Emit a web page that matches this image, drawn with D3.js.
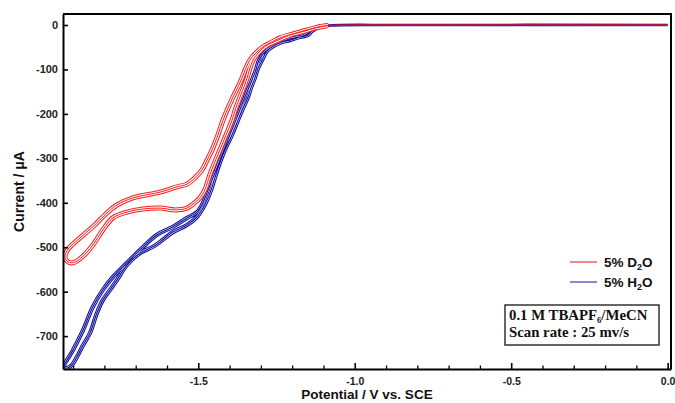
<!DOCTYPE html>
<html><head><meta charset="utf-8">
<script src="https://cdn.jsdelivr.net/npm/d3@7"></script>
<style>html,body{margin:0;padding:0;background:#fff;} svg{display:block;}</style>
</head><body>
<svg id="chart" width="675" height="403"></svg>
<script>
// ---- Data ----
// 5% D2O: forward (cathodic) branch then reverse branch, potential in V vs SCE, current in µA
const d2oPotential = [0.0, -0.85, -1.079, -1.117, -1.159, -1.207, -1.245, -1.284, -1.309, -1.325, -1.335, -1.344, -1.354, -1.364, -1.380, -1.392, -1.411, -1.431, -1.447, -1.463, -1.479, -1.495, -1.517, -1.536, -1.574, -1.622, -1.677, -1.728, -1.773, -1.805, -1.837, -1.868, -1.900, -1.920, -1.926,
  -1.916, -1.878, -1.837, -1.792, -1.760, -1.709, -1.622, -1.568, -1.536, -1.511, -1.488, -1.472, -1.456, -1.437, -1.421, -1.405, -1.389, -1.373, -1.360, -1.348, -1.335, -1.316, -1.293, -1.264, -1.239, -1.197, -1.153, -1.111, -1.079, -0.85, 0.0];
const d2oCurrent = [0, 0, -1, -4.5, -13.5, -22.5, -34, -47, -63, -79, -97, -119, -139, -157, -187, -214, -247, -281, -308, -337, -371, -389, -403, -412, -416, -412, -414, -421, -434, -461, -495, -520, -535, -531, -520,
  -504, -479, -454, -423, -405, -389, -376, -364, -358, -344, -326, -304, -281, -247, -214, -187, -162, -139, -119, -97, -79, -63, -49, -38, -29, -20, -11, -4.5, -1, 0, 0];

// 5% H2O
const h2oPotential = [0.0, -0.85, -1.079, -1.111, -1.137, -1.149, -1.175, -1.207, -1.239, -1.280, -1.296, -1.309, -1.319, -1.332, -1.341, -1.357, -1.373, -1.392, -1.415, -1.431, -1.447, -1.459, -1.472, -1.485, -1.504, -1.536, -1.581, -1.622, -1.645, -1.686, -1.728, -1.760, -1.782, -1.805, -1.824, -1.846, -1.868, -1.888, -1.904, -1.920, -1.929,
  -1.900, -1.868, -1.837, -1.805, -1.773, -1.728, -1.686, -1.632, -1.581, -1.536, -1.504, -1.485, -1.469, -1.453, -1.424, -1.399, -1.380, -1.367, -1.351, -1.332, -1.316, -1.306, -1.287, -1.255, -1.207, -1.165, -1.143, -1.117, -1.079, -0.85, 0.0];
const h2oCurrent = [0, 0, -1, -4.5, -13.5, -22.5, -27, -34, -40, -58, -79, -97, -119, -142, -162, -187, -214, -247, -281, -310, -344, -371, -394, -412, -432, -450, -466, -488, -499, -513, -540, -574, -596, -619, -648, -693, -720, -747, -765, -772, -769,
  -731, -686, -634, -596, -567, -535, -506, -472, -454, -434, -421, -400, -371, -344, -292, -247, -214, -191, -162, -130, -101, -79, -61, -45, -31, -25, -16, -4.5, -1, 0, 0];

const seriesNames = ["5% D", "5% H"];
const seriesColors = ["#ff1a1a", "#14149e"];
const legendColors = ["#e8383c", "#3a3ab8"];
const xMajorTicks = [-1.5, -1.0, -0.5, 0.0];
const xMinorTicks = [-1.9, -1.8, -1.7, -1.6, -1.4, -1.3, -1.2, -1.1, -0.9, -0.8, -0.7, -0.6, -0.4, -0.3, -0.2, -0.1];
const yTicks = [0, -100, -200, -300, -400, -500, -600, -700];
const xDomain = [-1.9324, 0.0107];
const yDomain = [-774, 24.75];
const baselineStart = -1.085; // cycles coincide on the flat baseline beyond this potential

// ---- Layout ----
const svg = d3.select("#chart");
const L = 63, R = 671, T = 14, B = 369;
const x = d3.scaleLinear().domain(xDomain).range([L, R]);
const y = d3.scaleLinear().domain(yDomain).range([B, T]);

const defs = svg.append("defs");
defs.append("clipPath").attr("id", "clipSweep")
  .append("rect").attr("x", L).attr("y", T).attr("width", x(baselineStart) - L).attr("height", B - T);
defs.append("clipPath").attr("id", "clipFlat")
  .append("rect").attr("x", x(baselineStart)).attr("y", T).attr("width", R - x(baselineStart)).attr("height", B - T);

const line = d3.line().x(d => x(d[0])).y(d => y(d[1])).curve(d3.curveCatmullRom.alpha(0.5));
const d2o = d2oPotential.map((v, i) => [v, d2oCurrent[i]]);
const h2o = h2oPotential.map((v, i) => [v, h2oCurrent[i]]);

const sweep = svg.append("g").attr("clip-path", "url(#clipSweep)");
const flat = svg.append("g").attr("clip-path", "url(#clipFlat)");
function drawCycles(data, color, outer, gap, inner) {
  sweep.append("path").datum(data).attr("d", line).attr("fill", "none").attr("stroke", color).attr("stroke-width", outer).attr("stroke-linejoin", "round");
  sweep.append("path").datum(data).attr("d", line).attr("fill", "none").attr("stroke", "#fff").attr("stroke-width", gap).attr("stroke-linejoin", "round");
  sweep.append("path").datum(data).attr("d", line).attr("fill", "none").attr("stroke", color).attr("stroke-width", inner).attr("stroke-linejoin", "round");
}
drawCycles(h2o, seriesColors[1], 4.2, 2, 1.2);
drawCycles(d2o, seriesColors[0], 5, 3, 1);
flat.append("path").datum(h2o).attr("d", line).attr("fill", "none").attr("stroke", seriesColors[1]).attr("stroke-width", 2.6);
flat.append("path").datum(d2o).attr("d", line).attr("fill", "none").attr("stroke", "#d0103a").attr("stroke-width", 1.8).attr("stroke-opacity", 0.85);

// ---- Axes ----
const font = "'Liberation Sans', Arial, sans-serif";
const yAxis = svg.append("g").attr("transform", `translate(${L},0)`)
  .call(d3.axisLeft(y).tickValues(yTicks).tickSizeInner(-5).tickSizeOuter(0).tickPadding(5).tickFormat(d => String(d)));
yAxis.select(".domain").attr("stroke-width", 2);
yAxis.selectAll(".tick line").attr("stroke-width", 1.6);
yAxis.selectAll("text").attr("font-family", font).attr("font-weight", "bold").attr("font-size", "11px").attr("fill", "#222");

const xAxis = svg.append("g").attr("transform", `translate(0,${B})`)
  .call(d3.axisBottom(x).tickValues(xMajorTicks).tickSizeInner(-6).tickSizeOuter(0).tickPadding(9).tickFormat(d => d.toFixed(1)));
xAxis.select(".domain").attr("stroke-width", 2);
xAxis.selectAll(".tick line").attr("stroke-width", 1.6);
xAxis.selectAll("text").attr("font-family", font).attr("font-weight", "bold").attr("font-size", "10.5px").attr("fill", "#222");

const xMinor = svg.append("g").attr("transform", `translate(0,${B})`)
  .call(d3.axisBottom(x).tickValues(xMinorTicks).tickSizeInner(-3.5).tickSizeOuter(0).tickFormat(""));
xMinor.select(".domain").remove();
xMinor.selectAll(".tick line").attr("stroke-width", 1.3);

// frame
svg.append("line").attr("x1", L).attr("x2", R + 1).attr("y1", T).attr("y2", T).attr("stroke", "#000").attr("stroke-width", 2);
svg.append("line").attr("x1", R).attr("x2", R).attr("y1", T).attr("y2", B).attr("stroke", "#000").attr("stroke-width", 2);

// axis titles
svg.append("text").attr("transform", `translate(24,${(T + B) / 2}) rotate(-90)`)
  .attr("text-anchor", "middle").attr("font-family", font).attr("font-weight", "bold").attr("font-size", "14px").attr("fill", "#111")
  .text("Current / μA");
svg.append("text").attr("x", (L + R) / 2).attr("y", 399)
  .attr("text-anchor", "middle").attr("font-family", font).attr("font-weight", "bold").attr("font-size", "13.5px").attr("fill", "#111")
  .text("Potential / V vs. SCE");

// legend
const legY = [262, 282];
const legSub = ["2", "2"];
seriesNames.forEach((name, i) => {
  svg.append("line").attr("x1", 570).attr("x2", 597).attr("y1", legY[i]).attr("y2", legY[i])
    .attr("stroke", legendColors[i]).attr("stroke-width", 1.2);
  const t = svg.append("text").attr("x", 604).attr("y", legY[i] + 5)
    .attr("font-family", font).attr("font-weight", "bold").attr("font-size", "13.5px").attr("fill", "#111");
  t.append("tspan").text(name);
  t.append("tspan").attr("font-size", "9px").attr("dy", 3).text(legSub[i]);
  t.append("tspan").attr("dy", -3).text("O");
});

// condition box
svg.append("rect").attr("x", 505).attr("y", 305).attr("width", 154).attr("height", 40)
  .attr("fill", "#fff").attr("stroke", "#333").attr("stroke-width", 1.5);
const serif = "'Liberation Serif', 'Times New Roman', serif";
const b1 = svg.append("text").attr("x", 509).attr("y", 320)
  .attr("font-family", serif).attr("font-weight", "bold").attr("font-size", "14.8px").attr("fill", "#111");
b1.append("tspan").text("0.1 M TBAPF");
b1.append("tspan").attr("font-size", "8.5px").attr("dy", 3).text("6");
b1.append("tspan").attr("dy", -3).text("/MeCN");
svg.append("text").attr("x", 509).attr("y", 337)
  .attr("font-family", serif).attr("font-weight", "bold").attr("font-size", "14.8px").attr("fill", "#111")
  .text("Scan rate : 25 mv/s");
</script>
</body></html>
